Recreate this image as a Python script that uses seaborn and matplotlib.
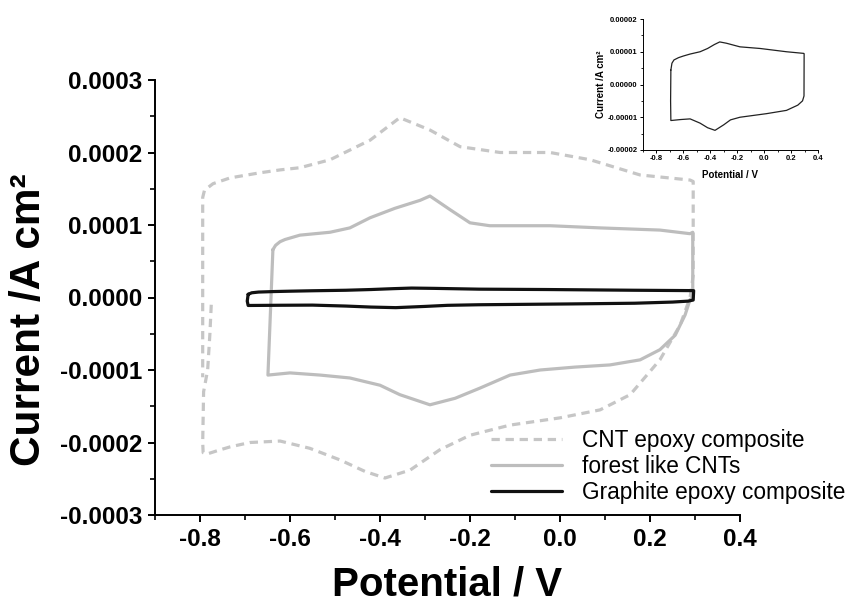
import numpy as np
import pandas as pd
import matplotlib
matplotlib.use("Agg")
import matplotlib.pyplot as plt
from matplotlib.ticker import AutoMinorLocator, FixedLocator, FixedFormatter
import seaborn as sns

# ---------------- data ----------------
cnt_x = [-0.775, -0.778, -0.783, -0.792, -0.794, -0.793, -0.785, -0.76, -0.733, -0.689, -0.622,
         -0.556, -0.489, -0.433, -0.389, -0.333, -0.267, -0.2, -0.111, 0.0, 0.089, 0.156,
         0.222, 0.267, 0.289, 0.296, 0.296, 0.289, 0.178, 0.067, -0.022, -0.133, -0.222,
         -0.289, -0.356, -0.422, -0.511, -0.578, -0.622, -0.667, -0.733, -0.771, -0.79,
         -0.794, -0.794, -0.794]
cnt_y = [-0.10e-4, -0.5e-4, -1.0e-4, -1.3e-4, -2.0e-4, -2.14e-4, -2.16e-4, -2.11e-4, -2.06e-4,
         -2.0e-4, -1.98e-4, -2.08e-4, -2.24e-4, -2.4e-4, -2.49e-4, -2.38e-4, -2.1e-4, -1.9e-4,
         -1.76e-4, -1.66e-4, -1.55e-4, -1.34e-4, -0.86e-4, -0.38e-4, 0.0, 0.3e-4, 1.6e-4,
         1.62e-4, 1.69e-4, 1.9e-4, 2.0e-4, 2.0e-4, 2.08e-4, 2.31e-4, 2.48e-4, 2.17e-4,
         1.9e-4, 1.79e-4, 1.76e-4, 1.72e-4, 1.65e-4, 1.57e-4, 1.48e-4, 1.38e-4, 0.5e-4,
         -1.1e-4]

forest_x = [-0.638, -0.632, -0.622, -0.611, -0.578, -0.511, -0.467, -0.422, -0.367, -0.311,
            -0.289, -0.244, -0.2, -0.156, -0.022, 0.089, 0.222, 0.289, 0.295, 0.295, 0.289,
            0.278, 0.256, 0.222, 0.178, 0.111, 0.033, -0.044, -0.111, -0.178, -0.233, -0.289,
            -0.356, -0.4, -0.467, -0.533, -0.6, -0.649, -0.638]
forest_y = [0.66e-4, 0.72e-4, 0.77e-4, 0.80e-4, 0.86e-4, 0.90e-4, 0.96e-4, 1.10e-4, 1.23e-4,
            1.34e-4, 1.40e-4, 1.21e-4, 1.03e-4, 0.99e-4, 0.99e-4, 0.96e-4, 0.93e-4, 0.88e-4,
            0.90e-4, 0.0, -0.03e-4, -0.24e-4, -0.52e-4, -0.72e-4, -0.86e-4, -0.93e-4,
            -0.96e-4, -1.00e-4, -1.07e-4, -1.25e-4, -1.39e-4, -1.48e-4, -1.34e-4, -1.21e-4,
            -1.11e-4, -1.07e-4, -1.04e-4, -1.07e-4, 0.66e-4]

graphite_x = [-0.693, -0.685, -0.67, -0.636, -0.6, -0.55, -0.476, -0.42, -0.37, -0.33, -0.28,
              -0.18, -0.03, 0.166, 0.294, 0.297, 0.296, 0.285, 0.25, 0.166, 0.018, -0.18,
              -0.25, -0.30, -0.365, -0.42, -0.476, -0.55, -0.62, -0.693, -0.695, -0.693]
graphite_y = [4.4e-6, 6.5e-6, 7.5e-6, 8.2e-6, 8.7e-6, 9.3e-6, 10.0e-6, 11.0e-6, 12.2e-6,
              13.0e-6, 12.6e-6, 11.5e-6, 11.0e-6, 10.0e-6, 9.5e-6, 9.4e-6, -3.5e-6, -5.0e-6,
              -6.3e-6, -7.9e-6, -8.9e-6, -10.0e-6, -10.8e-6, -12.3e-6, -14.0e-6, -13.2e-6,
              -11.8e-6, -10.5e-6, -10.7e-6, -11.0e-6, -5.0e-6, 4.4e-6]

series_labels = ["CNT epoxy composite", "forest like CNTs", "Graphite epoxy composite"]

main_xticks = [-0.8, -0.6, -0.4, -0.2, 0.0, 0.2, 0.4]
main_xticklabels = ["-0.8", "-0.6", "-0.4", "-0.2", "0.0", "0.2", "0.4"]
main_yticks = [0.0003, 0.0002, 0.0001, 0.0, -0.0001, -0.0002, -0.0003]
main_yticklabels = ["0.0003", "0.0002", "0.0001", "0.0000", "-0.0001", "-0.0002", "-0.0003"]
inset_yticks = [0.00002, 0.00001, 0.0, -0.00001, -0.00002]
inset_yticklabels = ["0.00002", "0.00001", "0.00000", "-0.00001", "-0.00002"]

# ---------------- style ----------------
sns.set_style("ticks")
plt.rcParams["font.family"] = ["Liberation Sans", "DejaVu Sans"]
plt.rcParams["axes.linewidth"] = 1.4
for k in ["text.color", "axes.labelcolor", "xtick.color", "ytick.color", "axes.edgecolor"]:
    plt.rcParams[k] = "black"

fig = plt.figure(figsize=(8.49, 6.05), dpi=100)
ax = fig.add_axes([155 / 849, 1 - 515 / 605, 585 / 849, 435 / 605])

df_cnt = pd.DataFrame({"x": cnt_x, "y": cnt_y})
df_for = pd.DataFrame({"x": forest_x, "y": forest_y})
df_gr = pd.DataFrame({"x": graphite_x, "y": graphite_y})

sns.lineplot(data=df_cnt, x="x", y="y", sort=False, estimator=None, ax=ax,
             color="#c6c6c6", linewidth=2.3, linestyle=(0, (2.6, 1.8)), label=series_labels[0])
sns.lineplot(data=df_for, x="x", y="y", sort=False, estimator=None, ax=ax,
             color="#bdbdbd", linewidth=2.3, label=series_labels[1])
sns.lineplot(data=df_gr, x="x", y="y", sort=False, estimator=None, ax=ax,
             color="#111111", linewidth=2.3, label=series_labels[2])

ax.set_xlim(-0.9, 0.4)
ax.set_ylim(-0.0003, 0.0003)
ax.xaxis.set_major_locator(FixedLocator(main_xticks))
ax.xaxis.set_major_formatter(FixedFormatter(main_xticklabels))
ax.yaxis.set_major_locator(FixedLocator(main_yticks))
ax.yaxis.set_major_formatter(FixedFormatter(main_yticklabels))
ax.xaxis.set_minor_locator(AutoMinorLocator(2))
ax.yaxis.set_minor_locator(AutoMinorLocator(2))
ax.tick_params(which="major", direction="out", length=5, width=1.4, labelsize=17.5, pad=4)
ax.tick_params(which="minor", direction="out", length=3.5, width=1.2)
for lab in ax.get_xticklabels() + ax.get_yticklabels():
    lab.set_fontweight("bold")
sns.despine(ax=ax)

ax.set_xlabel("Potential / V", fontsize=29, fontweight="bold")
ax.set_ylabel("Current /A cm²", fontsize=30.5, fontweight="bold")
ax.xaxis.set_label_coords(0.5, -0.115)
ax.yaxis.set_label_coords(-0.182, 0.45)

ax.legend(loc="upper left", bbox_to_anchor=(480 / 849, 1 - 418 / 605),
          bbox_transform=fig.transFigure, frameon=False, borderpad=0,
          handlelength=3.1, handletextpad=0.9, labelspacing=0.12,
          prop={"size": 16.3, "family": ["Liberation Sans"]})

# ---------------- inset ----------------
axi = fig.add_axes([643 / 849, 1 - 150 / 605, 175 / 849, 131 / 605])
sns.lineplot(data=df_gr, x="x", y="y", sort=False, estimator=None, ax=axi,
             color="#222222", linewidth=0.9, legend=False)
axi.set_xlim(-0.9, 0.4)
axi.set_ylim(-0.00002, 0.00002)
axi.xaxis.set_major_locator(FixedLocator(main_xticks))
axi.xaxis.set_major_formatter(FixedFormatter(main_xticklabels))
axi.yaxis.set_major_locator(FixedLocator(inset_yticks))
axi.yaxis.set_major_formatter(FixedFormatter(inset_yticklabels))
axi.xaxis.set_minor_locator(AutoMinorLocator(2))
axi.yaxis.set_minor_locator(AutoMinorLocator(2))
axi.tick_params(which="major", direction="out", length=2.2, width=0.7, labelsize=5.5, pad=1.5)
axi.tick_params(which="minor", direction="out", length=1.4, width=0.6)
for sp in axi.spines.values():
    sp.set_linewidth(0.7)
for lab in axi.get_xticklabels() + axi.get_yticklabels():
    lab.set_fontweight("bold")
sns.despine(ax=axi)
axi.set_xlabel("Potential / V", fontsize=7, fontweight="bold")
axi.set_ylabel("Current /A cm²", fontsize=7, fontweight="bold")
axi.xaxis.set_label_coords(0.5, -0.15)
axi.yaxis.set_label_coords(-0.21, 0.5)

fig.savefig("out.png", dpi=100)
